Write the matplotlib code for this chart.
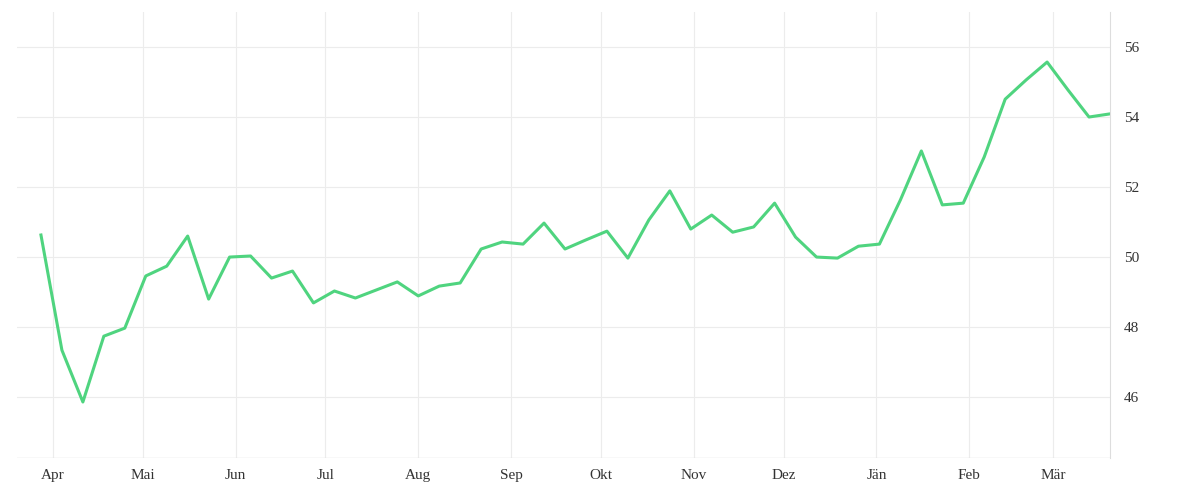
import matplotlib
matplotlib.use("Agg")
import matplotlib.pyplot as plt
import matplotlib.dates as mdates
import pandas as pd

start = "2022-03-28"
values = [50.63, 47.34, 45.86, 47.74, 47.97, 49.46, 49.74, 50.6, 48.8, 50.0,
          50.03, 49.4, 49.6, 48.69, 49.03, 48.83, 49.06, 49.29, 48.89, 49.17,
          49.26, 50.23, 50.43, 50.37, 50.97, 50.23, 50.49, 50.74, 49.97, 51.06,
          51.89, 50.8, 51.2, 50.71, 50.86, 51.54, 50.57, 50.0, 49.97, 50.31,
          50.37, 51.63, 53.03, 51.49, 51.54, 52.86, 54.51, 55.06, 55.57, 54.77,
          54.0, 54.09]
dates = pd.date_range(start, periods=len(values), freq="7D")
month_labels = ["Apr", "Mai", "Jun", "Jul", "Aug", "Sep", "Okt", "Nov", "Dez", "Jän", "Feb", "Mär"]
yticks = [46, 48, 50, 52, 54, 56]

plt.rcParams['font.family'] = ['Liberation Serif', 'DejaVu Serif']
fig = plt.figure(figsize=(12, 5), dpi=100)
ax = fig.add_axes([17/1200, 42/500, 1093/1200, 446/500])
ax.plot(dates, values, color="#4fd47f", lw=2.2)

ax.set_ylim(44.26, 57.0)
ax.set_xlim(pd.Timestamp("2022-03-20"), pd.Timestamp("2023-03-20"))
month_starts = pd.date_range("2022-04-01", periods=12, freq="MS")
ax.set_xticks(month_starts)
ax.set_xticklabels(month_labels)
ax.set_yticks(yticks)
ax.yaxis.tick_right()
ax.grid(True, color="#ececec", lw=0.8)
for s in ["top", "left", "bottom"]:
    ax.spines[s].set_visible(False)
ax.spines["right"].set_color("#dddddd")
ax.tick_params(axis="both", length=0, labelsize=11, colors="#333333", pad=8)
ax.tick_params(axis="y", pad=10)
ax.axhline(44.26, color="#dddddd", lw=1)
fig.savefig("out.png")
